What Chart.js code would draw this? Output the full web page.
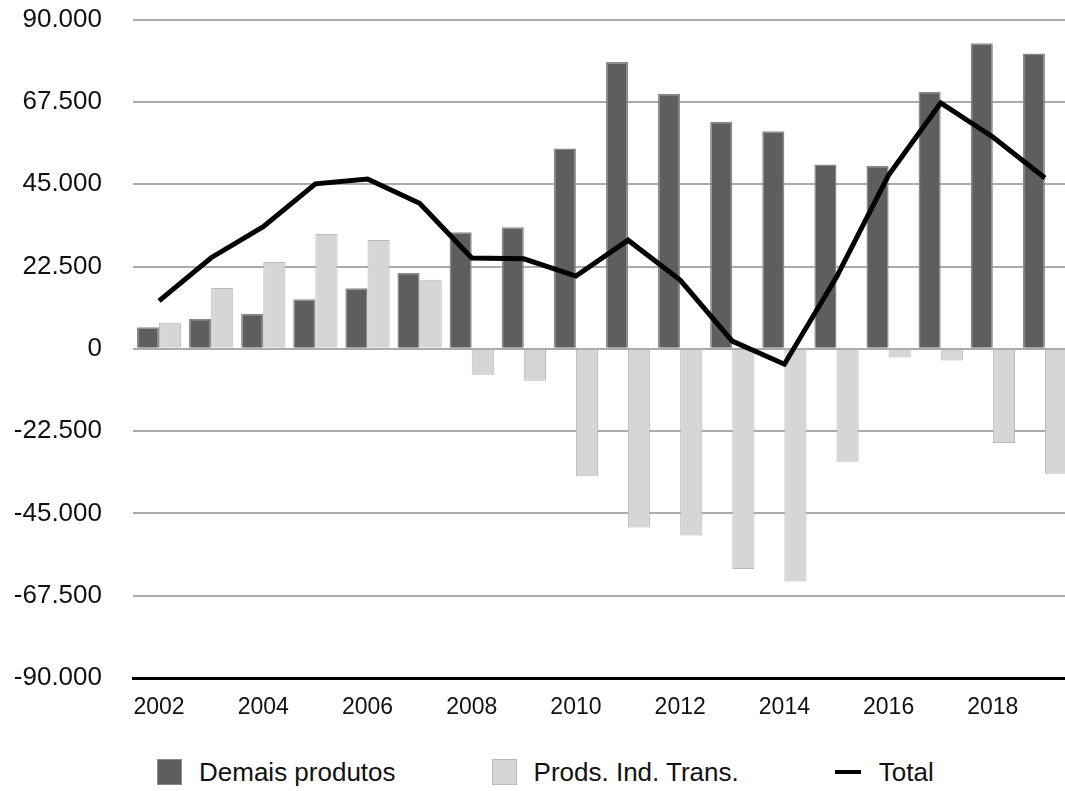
<!DOCTYPE html>
<html>
<head>
<meta charset="utf-8">
<script src="https://cdn.jsdelivr.net/npm/chart.js@4.4.1/dist/chart.umd.min.js"></script>
<style>
  html,body{margin:0;padding:0;background:#fff;overflow:hidden;}
  body{width:1065px;height:791px;position:relative;font-family:"Liberation Sans",Arial,Helvetica,sans-serif;}
  #wrap{position:absolute;left:0;top:-27px;width:1091px;height:767px;}
  #legend{position:absolute;left:157px;top:759px;display:flex;align-items:center;height:26px;}
  .lg-item{display:flex;align-items:center;margin-right:96px;}
  .lg-box{width:25px;height:26px;box-sizing:border-box;border:1.5px solid;margin-right:17px;}
  .lg-line{width:26px;height:4px;background:#000;margin-right:18px;}
  .lg-text{font-size:26px;color:#111;line-height:26px;}
</style>
</head>
<body>
<div id="wrap"><canvas id="trade-chart"></canvas></div>
<div id="legend"></div>
<script>
/* Balança por grupo de produtos, 2002-2019 */

var years = ['2002','2003','2004','2005','2006','2007','2008','2009','2010',
             '2011','2012','2013','2014','2015','2016','2017','2018','2019'];

var demaisProdutos = [5900, 8200, 9550, 13550, 16550, 20800, 31850, 33200, 54770,
                      78430, 69700, 62050, 59500, 50400, 50040, 70250, 83540, 80700];

var prodsIndTrans = [7100, 16650, 23750, 31400, 29750, 18850, -7100, -8740, -34860,
                     -48870, -51050, -60170, -63610, -30850, -2375, -3200, -25770, -34130];

var total = [13100, 24900, 33400, 45100, 46400, 39800, 24800, 24600, 19900,
             29700, 18800, 2100, -4200, 19600, 47500, 67200, 57900, 46700];

var yTicks = [-90000, -67500, -45000, -22500, 0, 22500, 45000, 67500, 90000];

var FONT = '"Liberation Sans", Arial, Helvetica, sans-serif';

function fmtThousands(v){
  var neg = v < 0;
  var s = String(Math.abs(v));
  s = s.replace(/\B(?=(\d{3})+(?!\d))/g, '.');
  return (neg ? '-' : '') + s;
}

function buildChart(){
  var ctx = document.getElementById('trade-chart');
  return new Chart(ctx, {
    type:'bar',
    data:{
      labels:years,
      datasets:[
        {
          type:'line',
          label:'Total',
          data:total,
          borderColor:'#000',
          borderWidth:5,
          pointRadius:0,
          tension:0,
          borderJoinStyle:'miter',
          fill:false,
          order:0
        },
        {
          label:'Demais produtos',
          data:demaisProdutos,
          backgroundColor:'#5e5e5e',
          borderColor:'#8a8a8a',
          borderWidth:1.5,
          order:1
        },
        {
          label:'Prods. Ind. Trans.',
          data:prodsIndTrans,
          backgroundColor:'#d6d6d6',
          borderColor:'#b9b9b9',
          borderWidth:1,
          order:1
        }
      ]
    },
    options:{
      responsive:true,
      maintainAspectRatio:false,
      animation:false,
      layout:{padding:{top:19,right:20,bottom:0,left:0}},
      datasets:{bar:{categoryPercentage:0.85,barPercentage:1.0}},
      plugins:{legend:{display:false},tooltip:{enabled:false}},
      scales:{
        x:{
          grid:{display:false,drawTicks:false},
          border:{display:true,color:'#000',width:3},
          ticks:{
            autoSkip:false,
            maxRotation:0,
            padding:16,
            color:'#111',
            font:{family:FONT,size:23},
            callback:function(v,i){return i % 2 === 0 ? years[i] : '';}
          },
          afterFit:function(s){s.height = 62;}
        },
        y:{
          min:yTicks[0],
          max:yTicks[yTicks.length-1],
          afterBuildTicks:function(s){s.ticks = yTicks.map(function(v){return {value:v};});},
          grid:{
            drawTicks:false,
            lineWidth:2,
            color:function(c){return c.tick && c.tick.value === yTicks[0] ? 'rgba(0,0,0,0)' : '#ababab';}
          },
          border:{display:false},
          ticks:{
            padding:31,
            color:'#111',
            font:{family:FONT,size:26},
            callback:function(v){return fmtThousands(v);}
          },
          afterFit:function(s){s.width = 133;}
        }
      }
    }
  });
}

function buildLegend(chart){
  var box = document.getElementById('legend');
  var items = [chart.data.datasets[1], chart.data.datasets[2], chart.data.datasets[0]];
  items.forEach(function(ds){
    var item = document.createElement('div');
    item.className = 'lg-item';
    var mark = document.createElement('div');
    if(ds.type === 'line'){
      mark.className = 'lg-line';
    } else {
      mark.className = 'lg-box';
      mark.style.background = ds.backgroundColor;
      mark.style.borderColor = ds.borderColor;
    }
    var txt = document.createElement('span');
    txt.className = 'lg-text';
    txt.textContent = ds.label;
    item.appendChild(mark);
    item.appendChild(txt);
    box.appendChild(item);
  });
}

var chart = buildChart();
buildLegend(chart);
</script>
</body>
</html>
